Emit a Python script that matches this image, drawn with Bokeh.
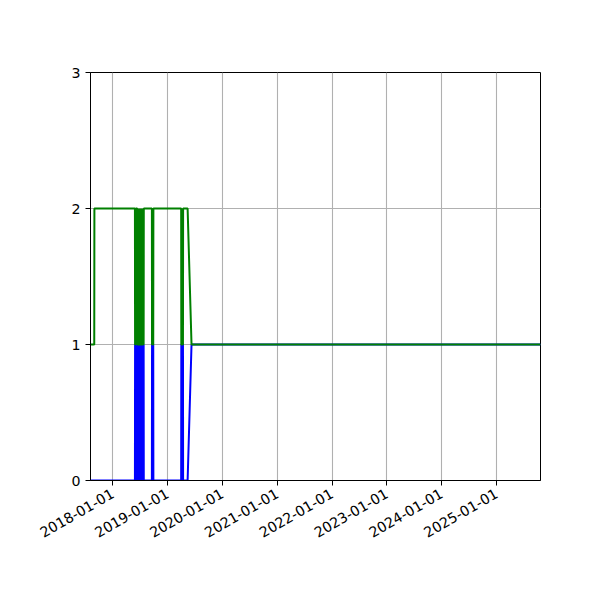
import math
import pandas as pd
from bokeh.plotting import figure
from bokeh.models import Range1d, FixedTicker, DatetimeTickFormatter
from bokeh.embed import file_html
from bokeh.resources import INLINE

# ---- data ----
dates = [
    "2017-08-06", "2017-08-31", "2017-09-01", "2018-05-29",
    "2018-05-30", "2018-05-31", "2018-06-01", "2018-06-02", "2018-06-03", "2018-06-04", "2018-06-13",
    "2018-06-14", "2018-06-15", "2018-06-16", "2018-06-17", "2018-06-18", "2018-06-19",
    "2018-06-20", "2018-06-21", "2018-06-22", "2018-06-23", "2018-06-24", "2018-06-25",
    "2018-06-26", "2018-06-27", "2018-06-28", "2018-06-29", "2018-06-30", "2018-07-01",
    "2018-07-02", "2018-07-03", "2018-07-04", "2018-07-05", "2018-07-06", "2018-07-07",
    "2018-07-08", "2018-07-09", "2018-07-10", "2018-07-11", "2018-07-12", "2018-07-13",
    "2018-07-14", "2018-07-15", "2018-07-16", "2018-07-17", "2018-07-18", "2018-07-19",
    "2018-07-20", "2018-07-21", "2018-07-22", "2018-07-23", "2018-07-24", "2018-07-25",
    "2018-07-26", "2018-07-27",
    "2018-09-19", "2018-09-20", "2018-09-28", "2018-09-29",
    "2019-04-02", "2019-04-03", "2019-04-14", "2019-04-15",
    "2019-05-15", "2019-06-10", "2025-10-21",
]
blue_values = [
    0, 0, 0, 0,
    1, 1, 0, 1, 1, 0, 0,
    1, 1, 0, 1, 1, 0,
    1, 1, 0, 1, 1, 0,
    1, 1, 0, 1, 1, 0,
    1, 1, 0, 1, 1, 0,
    1, 1, 0, 1, 1, 0,
    1, 1, 0, 1, 1, 0,
    1, 1, 0, 1, 1, 0,
    1, 0,
    0, 1, 1, 0,
    0, 1, 1, 0,
    0, 1, 1,
]
green_values = [
    1, 1, 2, 2,
    1, 1, 2, 1, 1, 2, 2,
    1, 1, 2, 1, 1, 2,
    1, 1, 2, 1, 1, 2,
    1, 1, 2, 1, 1, 2,
    1, 1, 2, 1, 1, 2,
    1, 1, 2, 1, 1, 2,
    1, 1, 2, 1, 1, 2,
    1, 1, 2, 1, 1, 2,
    1, 2,
    2, 1, 1, 2,
    2, 1, 1, 2,
    2, 1, 1,
]
tick_dates = ["2018-01-01", "2019-01-01", "2020-01-01", "2021-01-01",
              "2022-01-01", "2023-01-01", "2024-01-01", "2025-01-01"]
y_ticks = [0, 1, 2, 3]
x_start, x_end = "2017-08-06", "2025-10-21"

x = pd.to_datetime(dates)

p = figure(
    frame_width=450, frame_height=408,
    min_border_left=90, min_border_right=52, min_border_top=72, min_border_bottom=112,
    x_axis_type="datetime",
    x_range=Range1d(pd.Timestamp(x_start), pd.Timestamp(x_end)),
    y_range=Range1d(0, 3),
    output_backend="svg", toolbar_location=None,
)
p.background_fill_color = "white"
p.border_fill_color = "white"
p.outline_line_color = "black"
p.outline_line_alpha = 1
p.outline_line_width = 1

p.line(x, blue_values, line_color="blue", line_width=2)
p.line(x, green_values, line_color="green", line_width=2)

tick_ms = [pd.Timestamp(d).timestamp() * 1000 for d in tick_dates]
p.xaxis.ticker = FixedTicker(ticks=tick_ms)
fmt = "%Y-%m-%d"
p.xaxis.formatter = DatetimeTickFormatter(
    milliseconds=fmt, seconds=fmt, minsec=fmt, minutes=fmt, hourmin=fmt,
    hours=fmt, days=fmt, months=fmt, years=fmt)
p.xaxis.major_label_orientation = math.radians(30)
p.yaxis.ticker = FixedTicker(ticks=y_ticks)

for ax in (p.xaxis, p.yaxis):
    ax.axis_line_color = "black"
    ax.major_tick_line_color = "black"
    ax.major_tick_out = 5
    ax.major_tick_in = 0
    ax.minor_tick_line_color = None
    ax.major_label_text_font = "DejaVu Sans"
    ax.major_label_text_font_size = "14.2px"
    ax.major_label_text_color = "black"
    ax.major_label_standoff = 5
p.xaxis.major_label_standoff = 7

for g in (p.xgrid, p.ygrid):
    g.grid_line_color = "#b0b0b0"
    g.grid_line_width = 1.1
p.xgrid.ticker = FixedTicker(ticks=tick_ms)
p.ygrid.ticker = FixedTicker(ticks=y_ticks)

open("out.html", "w").write(file_html(p, INLINE))
